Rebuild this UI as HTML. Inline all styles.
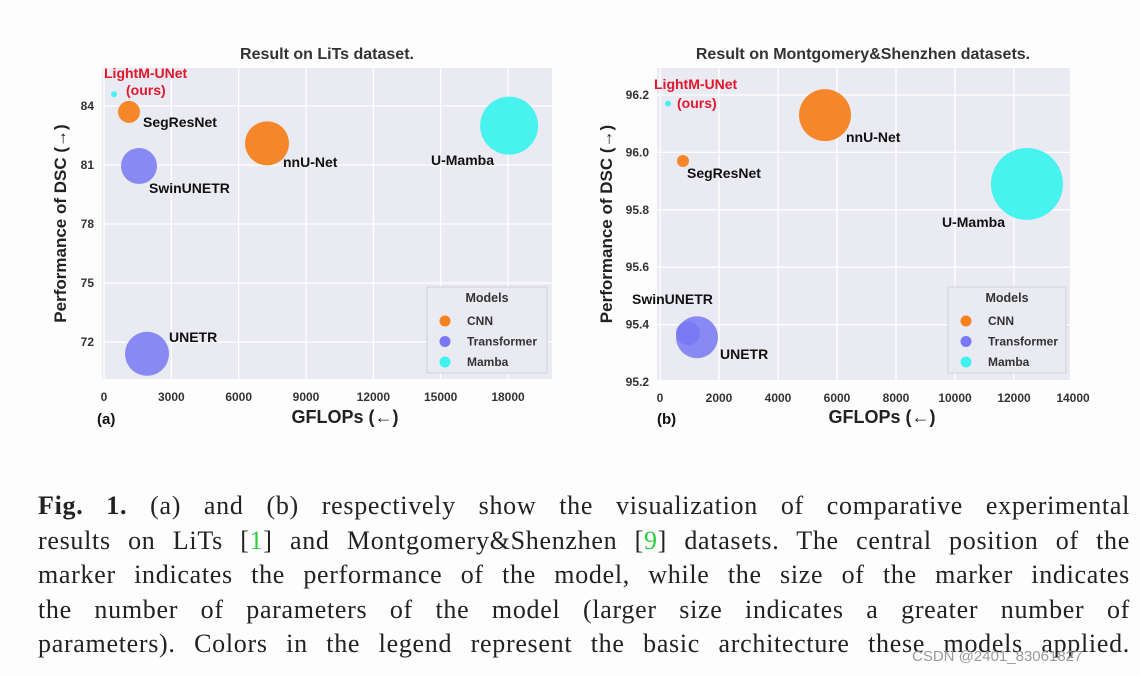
<!DOCTYPE html>
<html><head><meta charset="utf-8">
<style>
html,body{margin:0;padding:0;background:#fdfdfd;}
body{width:1140px;height:676px;overflow:hidden;position:relative;font-family:"Liberation Sans",sans-serif;}
#cap{position:absolute;left:38px;top:489px;width:1092px;font-family:"Liberation Serif",serif;font-size:26px;letter-spacing:0.7px;color:#222;}
#cap .ln{height:34.5px;line-height:34.5px;text-align:justify;text-align-last:justify;white-space:nowrap;}
.g{color:#2ecc40;}
#wm{position:absolute;left:912px;top:648px;font-size:15px;color:#9a9a9a;font-family:"Liberation Sans",sans-serif;}
</style></head>
<body>
<svg id="chart" width="1140" height="480" style="position:absolute;left:0;top:0" xmlns="http://www.w3.org/2000/svg"></svg>
<div id="cap">
<div class="ln"><b>Fig. 1.</b> (a) and (b) respectively show the visualization of comparative experimental</div>
<div class="ln">results on LiTs [<span class="g">1</span>] and Montgomery&amp;Shenzhen [<span class="g">9</span>] datasets. The central position of the</div>
<div class="ln">marker indicates the performance of the model, while the size of the marker indicates</div>
<div class="ln">the number of parameters of the model (larger size indicates a greater number of</div>
<div class="ln">parameters). Colors in the legend represent the basic architecture these models applied.</div>
</div>
<div id="wm">CSDN @2401_83061827</div>
<script>
// ---- Data: panel A (LiTs)
const modelsA = ["LightM-UNet","SegResNet","SwinUNETR","UNETR","nnU-Net","U-Mamba"];
const typesA = ["Mamba","CNN","Transformer","Transformer","CNN","Mamba"];
const gflopsA = [446,1114,1560,1916,7264,18050];
const dscA = [84.6,83.7,80.95,71.4,82.1,83.0];
const sizeA = [3,11,18,22,22,29];
const xTicksA = [0,3000,6000,9000,12000,15000,18000];
const yTicksA = [72,75,78,81,84];
// ---- Data: panel B (Montgomery&Shenzhen)
const modelsB = ["LightM-UNet","SegResNet","nnU-Net","U-Mamba","SwinUNETR","UNETR"];
const typesB = ["Mamba","CNN","CNN","Mamba","Transformer","Transformer"];
const gflopsB = [271,780,5593,12440,949,1254];
const dscB = [96.17,95.97,96.13,95.89,95.37,95.356];
const sizeB = [3,6,26,36,12,21];
const xTicksB = [0,2000,4000,6000,8000,10000,12000,14000];
const yTicksB = [95.2,95.4,95.6,95.8,96.0,96.2];
const legendTypes = ["CNN","Transformer","Mamba"];

const colors = {CNN:"#f5821f",Transformer:"#7878f5",Mamba:"#3ff2ee"};
const NS="http://www.w3.org/2000/svg";
const svg=document.getElementById('chart');
function mk(tag,attrs,parent,text){const e=document.createElementNS(NS,tag);for(const k in attrs)e.setAttribute(k,attrs[k]);if(text!==undefined)e.textContent=text;(parent||svg).appendChild(e);return e;}

function panel(cfg){
  const g=mk('g',{});
  
  
  const sx=v=>cfg.x0px+(v-cfg.x0)*(cfg.x1px-cfg.x0px)/(cfg.x1-cfg.x0);
  const sy=v=>cfg.y0px+(v-cfg.y0)*(cfg.y1px-cfg.y0px)/(cfg.y1-cfg.y0);
  const bg=mk('rect',{x:cfg.L,y:cfg.T,width:cfg.R-cfg.L,height:cfg.B-cfg.T,fill:'#eaeaf2'},g);
  
  
  cfg.xt.forEach(t=>{
    const l=mk('line',{x1:sx(t),x2:sx(t),y1:cfg.T,y2:cfg.B,stroke:'#fff','stroke-width':1.3},g);
    
    
    const tx=mk('text',{x:sx(t),y:cfg.B+22,'text-anchor':'middle','font-size':12,'font-weight':'bold',fill:'#333'},g,String(t));
    
    
  });
  cfg.yt.forEach(t=>{
    const l=mk('line',{x1:cfg.L,x2:cfg.R,y1:sy(t),y2:sy(t),stroke:'#fff','stroke-width':1.3},g);
    
    
    const tx=mk('text',{x:cfg.L-8,y:sy(t)+4,'text-anchor':'end','font-size':12,'font-weight':'bold',fill:'#333'},g,cfg.yfmt(t));
    
    
  });
  cfg.gf.forEach((v,i)=>{
    const c=mk('circle',{cx:sx(v),cy:sy(cfg.dsc[i]),r:cfg.size[i],fill:colors[cfg.types[i]],'fill-opacity':cfg.types[i]==='Transformer'?0.85:0.95},g);
    
    
  });
  cfg.labels.forEach(lb=>{
    const t=mk('text',{x:lb[1],y:lb[2],'font-size':14,'font-weight':'bold',fill:lb[3]||'#111'},g,lb[0]);
    
    
  });
  const tt=mk('text',{x:cfg.tx,y:59,'text-anchor':'middle','font-size':16,'font-weight':'bold',fill:'#333'},g,cfg.title);
  
  
  const yl=mk('text',{x:0,y:0,transform:`translate(${cfg.ylx},${(cfg.T+cfg.B)/2}) rotate(-90)`,'text-anchor':'middle','font-size':17,'font-weight':'bold',fill:'#222'},g,'Performance of DSC (\u2192)');
  
  
  const xl=mk('text',{x:cfg.xlx,y:423,'text-anchor':'middle','font-size':18,'font-weight':'bold',fill:'#222'},g,'GFLOPs (\u2190)');
  
  
  const pl=mk('text',{x:cfg.plx,y:424,'font-size':15,'font-weight':'bold',fill:'#111'},g,cfg.pl);
  
  
  const lg=mk('g',{},g);
  
  
  mk('rect',{x:cfg.lgx,y:287,width:cfg.lgw,height:86,fill:'#eaeaf2',stroke:'#d0d0d8'},lg);
  mk('text',{x:cfg.lgx+cfg.lgw/2,y:302,'text-anchor':'middle','font-size':12.5,'font-weight':'bold',fill:'#333'},lg,'Models');
  legendTypes.forEach((ty,i)=>{
    const e=mk('g',{},lg);
    
    
    mk('circle',{cx:cfg.lgx+18,cy:321+i*20.5,r:5.5,fill:colors[ty]},e);
    mk('text',{x:cfg.lgx+40,y:325+i*20.5,'font-size':12,'font-weight':'bold',fill:'#333'},e,ty);
  });
}

panel({id:'panel-a-lits',L:102,R:552,T:68,B:379,x0:0,x1:18000,x0px:104,x1px:508,y0:84,y1:72,y0px:106,y1px:342,
  xt:xTicksA,yt:yTicksA,yfmt:t=>String(t),gf:gflopsA,dsc:dscA,size:sizeA,types:typesA,models:modelsA,
  labels:[["LightM-UNet",104,78,"#e0182d"],["(ours)",126,95,"#e0182d"],["SegResNet",143,127],["nnU-Net",283,167],["U-Mamba",431,165],["SwinUNETR",149,193],["UNETR",169,342]],
  title:'Result on LiTs dataset.',tx:327,ylx:66,xlx:345,plx:97,pl:'(a)',lgx:427,lgw:120});
panel({id:'panel-b-montgomery-shenzhen',L:657,R:1070,T:68,B:380,x0:0,x1:14000,x0px:660,x1px:1073,y0:96.2,y1:95.2,y0px:95,y1px:382,
  xt:xTicksB,yt:yTicksB,yfmt:t=>t.toFixed(1),gf:gflopsB,dsc:dscB,size:sizeB,types:typesB,models:modelsB,
  labels:[["LightM-UNet",654,89,"#e0182d"],["(ours)",677,108,"#e0182d"],["nnU-Net",846,142],["SegResNet",687,178],["U-Mamba",942,227],["SwinUNETR",632,304],["UNETR",720,359]],
  title:'Result on Montgomery&Shenzhen datasets.',tx:863,ylx:612,xlx:882,plx:657,pl:'(b)',lgx:948,lgw:118});
</script>
</body></html>
